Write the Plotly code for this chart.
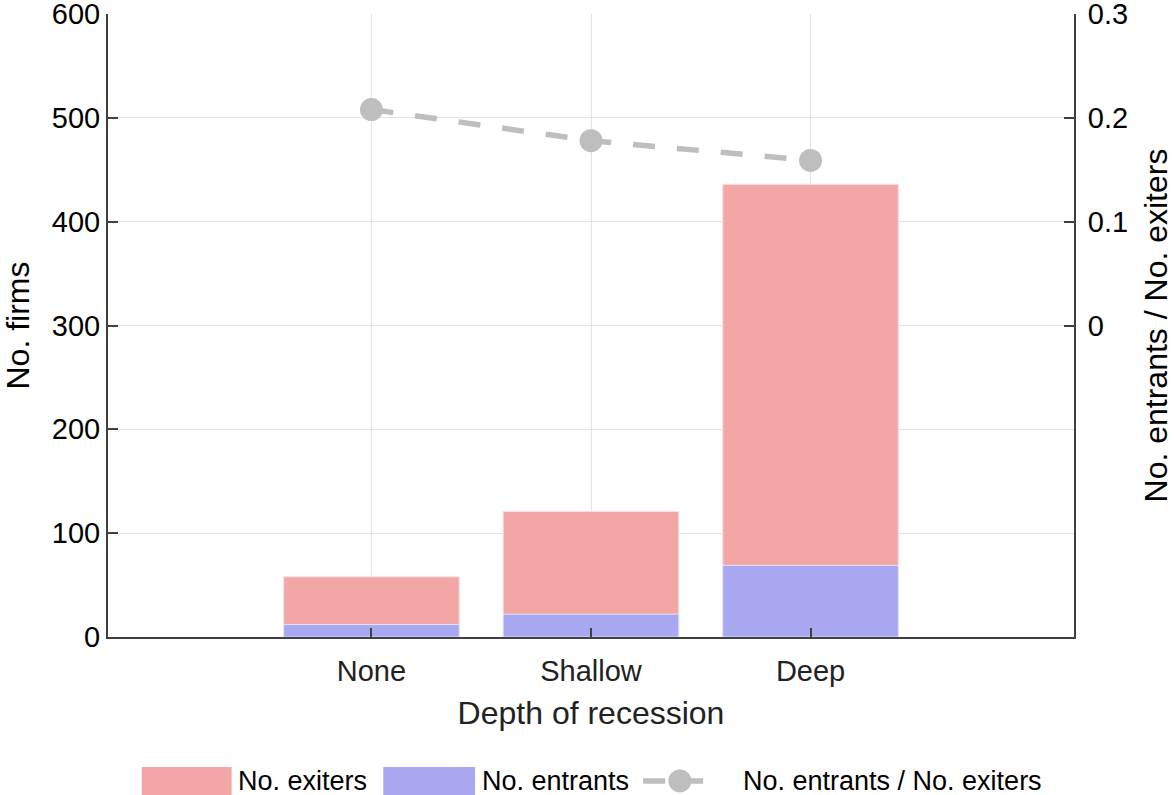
import plotly.graph_objects as go

categories = ["None", "Shallow", "Deep"]
exiters = [58, 121, 436]
entrants = [12, 22, 69]
ratio = [0.208, 0.178, 0.159]
left_ticks = [0, 100, 200, 300, 400, 500, 600]
right_ticks = [0, 0.1, 0.2, 0.3]
right_ticktext = ["0", "0.1", "0.2", "0.3"]

red = "#F2A6A6"
blue = "#A8A8F0"
gray = "#BEBEBE"
axcol = "#404040"
gridcol = "#E2E2E2"
FONT = "Liberation Sans, Arial, sans-serif"

x = list(range(len(categories)))

fig = go.Figure()
fig.add_trace(go.Bar(x=x, y=exiters, name="No. exiters",
                     marker=dict(color=red, line=dict(color="#FBE3E3", width=1)),
                     width=0.8, showlegend=False))
fig.add_trace(go.Bar(x=x, y=entrants, name="No. entrants",
                     marker=dict(color=blue, line=dict(color="#E3E3FB", width=1)),
                     width=0.8, showlegend=False))
fig.add_trace(go.Scatter(x=x, y=ratio, yaxis="y2", mode="lines+markers", name="No. entrants / No. exiters",
                         line=dict(color=gray, width=5.5, dash="22px,22px"),
                         marker=dict(color=gray, size=23), showlegend=False))

fig.update_layout(
    width=1174, height=795,
    margin=dict(l=108, r=100, t=14, b=158, autoexpand=False),
    plot_bgcolor="white", paper_bgcolor="white",
    barmode="overlay",
    font=dict(family=FONT, size=29, color="black"),
    xaxis=dict(range=[-1.2, 3.2], tickvals=x, ticktext=categories, showgrid=True, gridcolor=gridcol,
               gridwidth=1, showline=True, linecolor=axcol, linewidth=2, ticks="inside", ticklen=9,
               tickcolor=axcol, tickwidth=2, zeroline=False, automargin=False,
               ticklabelstandoff=7, ticklabeloverflow="allow",
               title=dict(text="Depth of recession", font=dict(size=32, color="#222"), standoff=16),
               tickfont=dict(size=29, color="#222")),
    yaxis=dict(range=[0, 600], tickvals=left_ticks, showgrid=True, gridcolor=gridcol, gridwidth=1,
               showline=True, linecolor=axcol, linewidth=2, ticks="inside", ticklen=10, tickcolor=axcol,
               tickwidth=2, zeroline=False, automargin=False, ticklabeloverflow="allow",
               title=dict(text="No. firms", font=dict(size=32), standoff=18),
               tickfont=dict(size=29)),
    yaxis2=dict(range=[-0.3, 0.3], overlaying="y", side="right", tickvals=right_ticks, ticktext=right_ticktext,
                showgrid=False, showline=True, linecolor=axcol, linewidth=2, ticks="inside", ticklen=10,
                tickcolor=axcol, tickwidth=2, zeroline=False, automargin=False,
                ticklabelstandoff=6, ticklabeloverflow="allow",
                title=dict(text="No. entrants / No. exiters", font=dict(size=32), standoff=22),
                tickfont=dict(size=29)),
)

# manual legend (paper coordinates)
ly = -0.231
half = 0.0225
items = [
    (0.035, 0.128, red, "No. exiters", 0.133),
    (0.285, 0.380, blue, "No. entrants", 0.385),
]
for x0, x1, col, label, tx in items:
    fig.add_shape(type="rect", xref="paper", yref="paper", x0=x0, x1=x1, y0=ly - half, y1=ly + half,
                  fillcolor=col, line=dict(width=0))
    fig.add_annotation(xref="paper", yref="paper", x=tx, y=ly, text=label,
                       showarrow=False, xanchor="left", yanchor="middle", font=dict(size=27, color="black"))
fig.add_shape(type="line", xref="paper", yref="paper", x0=0.554, x1=0.623, y0=ly, y1=ly,
              line=dict(color=gray, width=5.5, dash="22px,16px"))
fig.add_shape(type="circle", xref="paper", yref="paper", xsizemode="pixel", ysizemode="pixel",
              xanchor=0.592, yanchor=ly, x0=-11.5, x1=11.5, y0=-11.5, y1=11.5,
              fillcolor=gray, line=dict(width=0))
fig.add_annotation(xref="paper", yref="paper", x=0.655, y=ly, text="No. entrants / No. exiters",
                   showarrow=False, xanchor="left", yanchor="middle", font=dict(size=27, color="black"))

# remove the default 8px page margin so the figure fills the window exactly
fig.write_html("out.html", config={"displayModeBar": False},
               post_script="document.body.style.margin='0';document.body.style.overflow='hidden';")
